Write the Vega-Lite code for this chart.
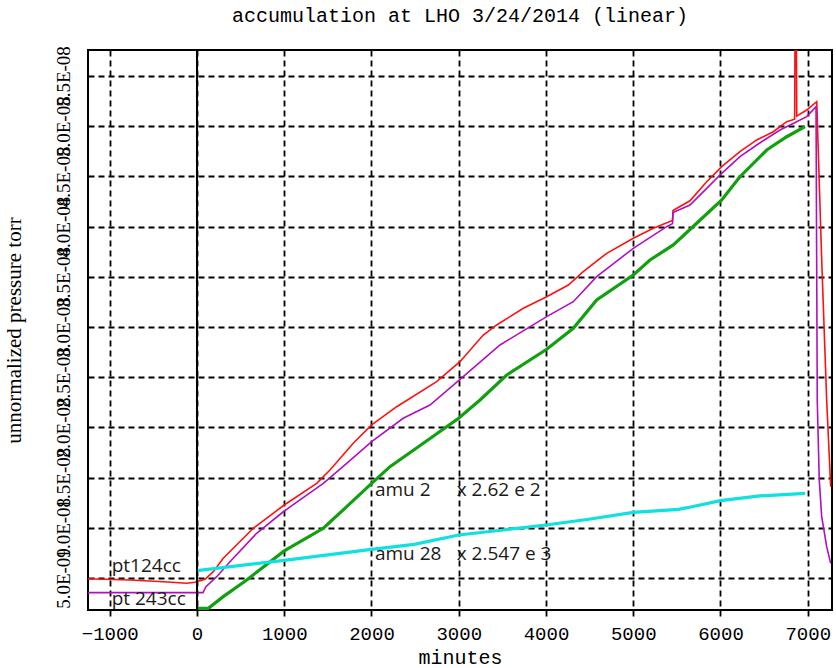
{
  "$schema": "https://vega.github.io/schema/vega-lite/v6.json",
  "autosize": {"type": "none"},
  "width": 744,
  "height": 560,
  "padding": {"left": 88, "top": 50, "right": 4, "bottom": 58},
  "background": "white",
  "title": {"text": "accumulation at LHO 3/24/2014 (linear)", "font": "Liberation Mono", "fontSize": 20, "fontWeight": "normal", "color": "black", "anchor": "middle", "baseline": "alphabetic", "offset": 4},
  "config": {
    "view": {"stroke": "black", "strokeWidth": 2},
    "axis": {"gridColor": "black", "gridDash": [6, 4], "gridWidth": 1.8, "gridOpacity": 1, "domain": false, "labelColor": "black", "titleColor": "black"}
  },
  "datasets": {
    "curves": [
      {"series": "red", "minutes": -1249, "pressure": 4.92e-9},
      {"series": "red", "minutes": -768, "pressure": 4.80e-9},
      {"series": "red", "minutes": -386, "pressure": 4.63e-9},
      {"series": "red", "minutes": -118, "pressure": 4.47e-9},
      {"series": "red", "minutes": -23, "pressure": 4.57e-9},
      {"series": "red", "minutes": 92, "pressure": 4.87e-9},
      {"series": "red", "minutes": 187, "pressure": 5.63e-9},
      {"series": "red", "minutes": 301, "pressure": 6.96e-9},
      {"series": "red", "minutes": 416, "pressure": 7.96e-9},
      {"series": "red", "minutes": 645, "pressure": 9.95e-9},
      {"series": "red", "minutes": 1000, "pressure": 12.27e-9},
      {"series": "red", "minutes": 1372, "pressure": 14.43e-9},
      {"series": "red", "minutes": 1524, "pressure": 15.76e-9},
      {"series": "red", "minutes": 1791, "pressure": 18.42e-9},
      {"series": "red", "minutes": 2002, "pressure": 20.24e-9},
      {"series": "red", "minutes": 2289, "pressure": 22.06e-9},
      {"series": "red", "minutes": 2747, "pressure": 24.55e-9},
      {"series": "red", "minutes": 3014, "pressure": 26.54e-9},
      {"series": "red", "minutes": 3281, "pressure": 29.20e-9},
      {"series": "red", "minutes": 3435, "pressure": 30.20e-9},
      {"series": "red", "minutes": 3740, "pressure": 31.86e-9},
      {"series": "red", "minutes": 4008, "pressure": 33.02e-9},
      {"series": "red", "minutes": 4256, "pressure": 34.18e-9},
      {"series": "red", "minutes": 4427, "pressure": 35.51e-9},
      {"series": "red", "minutes": 4696, "pressure": 37.34e-9},
      {"series": "red", "minutes": 5001, "pressure": 38.84e-9},
      {"series": "red", "minutes": 5230, "pressure": 39.83e-9},
      {"series": "red", "minutes": 5450, "pressure": 40.6e-9},
      {"series": "red", "minutes": 5456, "pressure": 41.6e-9},
      {"series": "red", "minutes": 5650, "pressure": 42.57e-9},
      {"series": "red", "minutes": 5842, "pressure": 44.47e-9},
      {"series": "red", "minutes": 6014, "pressure": 45.97e-9},
      {"series": "red", "minutes": 6223, "pressure": 47.46e-9},
      {"series": "red", "minutes": 6415, "pressure": 48.63e-9},
      {"series": "red", "minutes": 6605, "pressure": 49.45e-9},
      {"series": "red", "minutes": 6759, "pressure": 50.45e-9},
      {"series": "red", "minutes": 6850, "pressure": 50.7e-9},
      {"series": "red", "minutes": 6856, "pressure": 62e-9},
      {"series": "red", "minutes": 6868, "pressure": 62e-9},
      {"series": "red", "minutes": 6874, "pressure": 51.0e-9},
      {"series": "red", "minutes": 6988, "pressure": 51.61e-9},
      {"series": "red", "minutes": 7103, "pressure": 52.44e-9},
      {"series": "red", "minutes": 7160, "pressure": 36.67e-9},
      {"series": "red", "minutes": 7217, "pressure": 22.73e-9},
      {"series": "red", "minutes": 7263, "pressure": 14.09e-9},

      {"series": "purple", "minutes": -1249, "pressure": 3.54e-9},
      {"series": "purple", "minutes": 69, "pressure": 3.54e-9},
      {"series": "purple", "minutes": 103, "pressure": 4.13e-9},
      {"series": "purple", "minutes": 226, "pressure": 5.13e-9},
      {"series": "purple", "minutes": 378, "pressure": 6.62e-9},
      {"series": "purple", "minutes": 684, "pressure": 9.45e-9},
      {"series": "purple", "minutes": 1000, "pressure": 11.67e-9},
      {"series": "purple", "minutes": 1448, "pressure": 14.43e-9},
      {"series": "purple", "minutes": 1716, "pressure": 16.42e-9},
      {"series": "purple", "minutes": 2002, "pressure": 18.58e-9},
      {"series": "purple", "minutes": 2364, "pressure": 20.91e-9},
      {"series": "purple", "minutes": 2670, "pressure": 22.23e-9},
      {"series": "purple", "minutes": 3005, "pressure": 24.7e-9},
      {"series": "purple", "minutes": 3473, "pressure": 28.21e-9},
      {"series": "purple", "minutes": 4008, "pressure": 31.03e-9},
      {"series": "purple", "minutes": 4313, "pressure": 32.52e-9},
      {"series": "purple", "minutes": 4581, "pressure": 35.01e-9},
      {"series": "purple", "minutes": 5001, "pressure": 37.84e-9},
      {"series": "purple", "minutes": 5383, "pressure": 39.99e-9},
      {"series": "purple", "minutes": 5450, "pressure": 40.3e-9},
      {"series": "purple", "minutes": 5456, "pressure": 41.4e-9},
      {"series": "purple", "minutes": 5650, "pressure": 42.15e-9},
      {"series": "purple", "minutes": 5842, "pressure": 43.81e-9},
      {"series": "purple", "minutes": 6014, "pressure": 45.31e-9},
      {"series": "purple", "minutes": 6223, "pressure": 46.96e-9},
      {"series": "purple", "minutes": 6415, "pressure": 48.13e-9},
      {"series": "purple", "minutes": 6682, "pressure": 49.62e-9},
      {"series": "purple", "minutes": 6873, "pressure": 50.45e-9},
      {"series": "purple", "minutes": 6988, "pressure": 50.95e-9},
      {"series": "purple", "minutes": 7095, "pressure": 51.94e-9},
      {"series": "purple", "minutes": 7109, "pressure": 22.73e-9},
      {"series": "purple", "minutes": 7132, "pressure": 14.76e-9},
      {"series": "purple", "minutes": 7160, "pressure": 11.11e-9},
      {"series": "purple", "minutes": 7217, "pressure": 8.12e-9},
      {"series": "purple", "minutes": 7263, "pressure": 6.46e-9},

      {"series": "green", "minutes": 0, "pressure": 1.98e-9},
      {"series": "green", "minutes": 130, "pressure": 1.98e-9},
      {"series": "green", "minutes": 301, "pressure": 3.14e-9},
      {"series": "green", "minutes": 570, "pressure": 4.80e-9},
      {"series": "green", "minutes": 1000, "pressure": 7.7e-9},
      {"series": "green", "minutes": 1448, "pressure": 9.95e-9},
      {"series": "green", "minutes": 1716, "pressure": 12.10e-9},
      {"series": "green", "minutes": 2002, "pressure": 14.43e-9},
      {"series": "green", "minutes": 2212, "pressure": 16.09e-9},
      {"series": "green", "minutes": 2594, "pressure": 18.42e-9},
      {"series": "green", "minutes": 2999, "pressure": 20.91e-9},
      {"series": "green", "minutes": 3244, "pressure": 22.73e-9},
      {"series": "green", "minutes": 3550, "pressure": 25.22e-9},
      {"series": "green", "minutes": 4008, "pressure": 27.78e-9},
      {"series": "green", "minutes": 4313, "pressure": 29.87e-9},
      {"series": "green", "minutes": 4581, "pressure": 32.69e-9},
      {"series": "green", "minutes": 5001, "pressure": 35.18e-9},
      {"series": "green", "minutes": 5192, "pressure": 36.67e-9},
      {"series": "green", "minutes": 5459, "pressure": 38.17e-9},
      {"series": "green", "minutes": 5727, "pressure": 40.33e-9},
      {"series": "green", "minutes": 6014, "pressure": 42.65e-9},
      {"series": "green", "minutes": 6223, "pressure": 44.97e-9},
      {"series": "green", "minutes": 6530, "pressure": 47.63e-9},
      {"series": "green", "minutes": 6759, "pressure": 48.95e-9},
      {"series": "green", "minutes": 6968, "pressure": 49.95e-9},

      {"series": "cyan", "minutes": 0, "pressure": 5.73e-9},
      {"series": "cyan", "minutes": 1000, "pressure": 6.75e-9},
      {"series": "cyan", "minutes": 2000, "pressure": 7.85e-9},
      {"series": "cyan", "minutes": 2490, "pressure": 8.35e-9},
      {"series": "cyan", "minutes": 3000, "pressure": 9.28e-9},
      {"series": "cyan", "minutes": 3510, "pressure": 9.78e-9},
      {"series": "cyan", "minutes": 4000, "pressure": 10.28e-9},
      {"series": "cyan", "minutes": 4490, "pressure": 10.85e-9},
      {"series": "cyan", "minutes": 5000, "pressure": 11.54e-9},
      {"series": "cyan", "minutes": 5520, "pressure": 11.84e-9},
      {"series": "cyan", "minutes": 5620, "pressure": 12.0e-9},
      {"series": "cyan", "minutes": 6000, "pressure": 12.7e-9},
      {"series": "cyan", "minutes": 6450, "pressure": 13.17e-9},
      {"series": "cyan", "minutes": 6970, "pressure": 13.43e-9}
    ],
    "labels": [
      {"minutes": -978, "pressure": 5.63e-9, "text": "pt124cc"},
      {"minutes": -978, "pressure": 2.31e-9, "text": "pt 243cc"},
      {"minutes": 2040, "pressure": 13.2e-9, "text": "amu 2"},
      {"minutes": 2977, "pressure": 13.2e-9, "text": "x 2.62 e 2"},
      {"minutes": 2040, "pressure": 6.79e-9, "text": "amu 28"},
      {"minutes": 2977, "pressure": 6.79e-9, "text": "x 2.547 e 3"}
    ],
    "zero": [{"minutes": 0}]
  },
  "encoding": {
    "x": {"field": "minutes", "type": "quantitative",
          "scale": {"domain": [-1249, 7278], "nice": false, "zero": false},
          "axis": {"values": [-1000, 0, 1000, 2000, 3000, 4000, 5000, 6000, 7000], "format": "d", "title": "minutes",
                   "labelFont": "Liberation Mono", "labelFontSize": 19, "labelPadding": 6,
                   "titleFont": "Liberation Mono", "titleFontSize": 20, "titleFontWeight": "normal", "titlePadding": 4,
                   "ticks": true, "tickSize": 8, "tickColor": "black", "tickWidth": 1.8, "tickDash": [6, 4]}},
    "y": {"field": "pressure", "type": "quantitative",
          "scale": {"domain": [1.81e-9, 5.759e-8], "nice": false, "zero": false},
          "axis": {"values": [5e-9, 1e-8, 1.5e-8, 2e-8, 2.5e-8, 3e-8, 3.5e-8, 4e-8, 4.5e-8, 5e-8, 5.5e-8],
                   "labelExpr": "datum.value < 9.9e-9 ? format(datum.value*1e9,'.1f')+'E-09' : format(datum.value*1e8,'.1f')+'E-08'",
                   "labelAngle": -90, "labelAlign": "center", "labelBaseline": "bottom",
                   "labelFont": "Liberation Serif", "labelFontSize": 19, "labelPadding": 15, "ticks": false, "labelOverlap": false,
                   "title": "unnormalized pressure torr", "titleFont": "Liberation Serif", "titleFontSize": 21, "titleFontWeight": "normal",
                   "titleAngle": -90, "titleX": -74, "titleY": 280, "titleAlign": "center", "titleBaseline": "middle"}}
  },
  "layer": [
    {
      "data": {"name": "curves"},
      "transform": [{"filter": "datum.series == 'red'"}],
      "mark": {"type": "line", "clip": true, "color": "#ff1010", "strokeWidth": 1.6},
      "encoding": {"order": {"field": "minutes", "type": "quantitative"}}
    },
    {
      "data": {"name": "curves"},
      "transform": [{"filter": "datum.series == 'purple'"}],
      "mark": {"type": "line", "clip": true, "color": "#b010c0", "strokeWidth": 1.6},
      "encoding": {"order": {"field": "minutes", "type": "quantitative"}}
    },
    {
      "data": {"name": "curves"},
      "transform": [{"filter": "datum.series == 'green'"}],
      "mark": {"type": "line", "clip": true, "color": "#10a010", "strokeWidth": 3.2},
      "encoding": {"order": {"field": "minutes", "type": "quantitative"}}
    },
    {
      "data": {"name": "curves"},
      "transform": [{"filter": "datum.series == 'cyan'"}],
      "mark": {"type": "line", "clip": true, "color": "#10e0e0", "strokeWidth": 3.2},
      "encoding": {"order": {"field": "minutes", "type": "quantitative"}}
    },
    {
      "data": {"name": "zero"},
      "mark": {"type": "rule", "color": "black", "strokeWidth": 2},
      "encoding": {"y": null}
    },
    {
      "data": {"name": "labels"},
      "mark": {"type": "text", "font": "Open Sans", "fontSize": 19, "align": "left", "baseline": "alphabetic", "color": "#1a1a1a"},
      "encoding": {"text": {"field": "text"}}
    }
  ]
}
